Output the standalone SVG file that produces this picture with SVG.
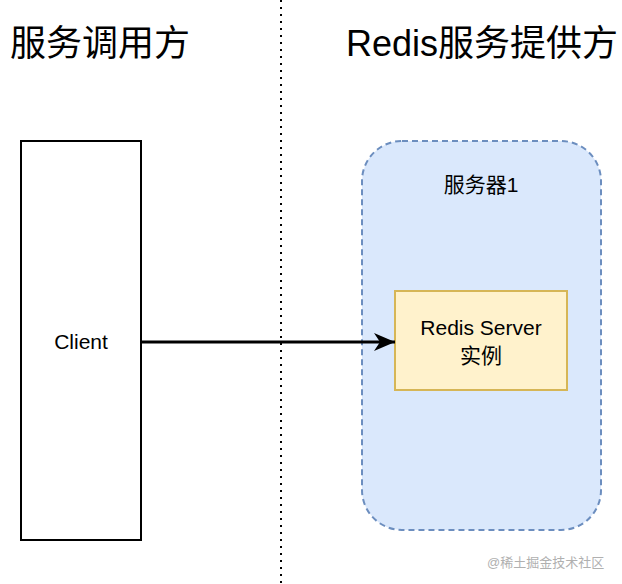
<svg xmlns="http://www.w3.org/2000/svg" width="622" height="584" viewBox="0 0 622 584">
<style>
text{font-family:"Liberation Sans","Noto Sans CJK SC",sans-serif;fill:#000}
.h{font-size:36px}
.n{font-size:21px;text-anchor:middle}
</style>
<defs><marker id="a" markerWidth="22" markerHeight="20" refX="21" refY="10" orient="auto" markerUnits="userSpaceOnUse"><path d="M0,1 L21,10 L0,19 L6,10 Z" fill="#000"/></marker></defs>
<rect width="622" height="584" fill="#fff"/>
<line x1="281" y1="0" x2="281" y2="584" stroke="#000" stroke-width="2" stroke-dasharray="2 5"/>
<text class="h" x="10" y="56">服务调用方</text>
<text class="h" x="346" y="56">Redis服务提供方</text>
<g id="client"><rect x="21" y="141" width="120" height="399" fill="#fff" stroke="#000" stroke-width="2"/><text class="n" x="81" y="349">Client</text></g>
<g id="server1"><rect x="362" y="141" width="239" height="389" rx="40" fill="#dae8fc" stroke="#6c8ebf" stroke-width="2" stroke-dasharray="6 4"/><text class="n" x="481" y="192">服务器1</text></g>
<g id="redis"><rect x="395" y="291" width="172" height="99" fill="#fff2cc" stroke="#d6b656" stroke-width="2"/><text class="n" x="481" y="335">Redis Server</text><text class="n" x="481" y="363">实例</text></g>
<g id="connectors"><path d="M141,342 L395,342" stroke="#000" stroke-width="3" fill="none" marker-end="url(#a)"/></g>
<text x="487" y="567" font-size="13" style="fill:#b0b0b0">@稀土掘金技术社区</text>
</svg>
